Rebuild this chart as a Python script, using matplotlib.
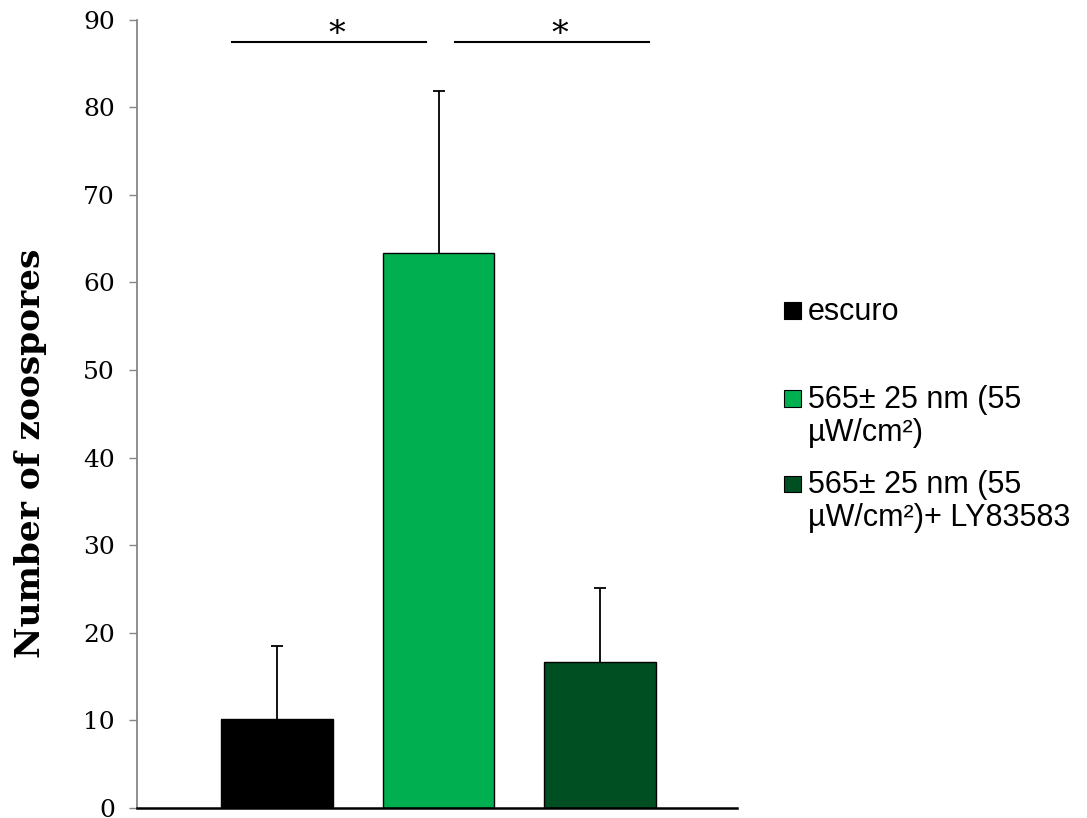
import numpy as np
import matplotlib
matplotlib.use("Agg")
import matplotlib.pyplot as plt
from matplotlib.patches import Rectangle

# data
labels = ["escuro", "565\u00b1 25 nm (55\n\u00b5W/cm\u00b2)", "565\u00b1 25 nm (55\n\u00b5W/cm\u00b2)+ LY83583"]
means = np.array([10.2, 63.3, 16.7])
errs = np.array([8.25, 18.6, 8.45])
colors = ["#000000", "#00B050", "#004F23"]
yticks = [0, 10, 20, 30, 40, 50, 60, 70, 80, 90]

# significance bars: (x start, x end, y)
sig_lines = [(-0.28, 0.925, 87.4), (1.10, 2.30, 87.4)]
sig_marks = [(0.37, "*"), (1.75, "*")]

W, H = 1087, 818
fig = plt.figure(figsize=(W / 100, H / 100), dpi=100)
ax = fig.add_axes([137 / W, 1 - 808 / H, 600 / W, 788.4 / H])

x = np.arange(len(means))
ax.bar(x, means, width=0.69, color=colors, edgecolor="black", linewidth=1.0, zorder=2)
# only the upper half of the error bar, like excel's "plus" direction
ax.vlines(x, means, means + errs, color="black", lw=1.3, zorder=3)
ax.plot(x, means + errs, ls="none", marker="_", ms=8, mew=1.3, color="black", zorder=3)

for x0, x1, yy in sig_lines:
    ax.plot([x0, x1], [yy, yy], color="black", lw=1.5, clip_on=False)
for xs, s in sig_marks:
    ax.text(xs, 86.4, s, ha="center", va="bottom", fontsize=24, family="DejaVu Serif")

ax.set_xlim(-0.865, 2.846)
ax.set_ylim(0, 90)
ax.set_yticks(yticks)
ax.set_xticks([])
ax.set_yticklabels([str(t) for t in yticks], family="DejaVu Serif", fontsize=18)
ax.tick_params(axis="y", direction="out", length=6, width=1, color="#868686", pad=10)

for side in ["top", "right"]:
    ax.spines[side].set_visible(False)
ax.spines["left"].set_color("#868686")
ax.spines["left"].set_linewidth(1.3)
ax.spines["bottom"].set_color("black")
ax.spines["bottom"].set_linewidth(1.8)

ax.set_ylabel("Number of zoospores", family="DejaVu Serif", fontweight="bold", fontsize=24.8, va="center")
ax.yaxis.set_label_coords(-0.177, 0.45)

# legend drawn by hand so the swatch sits beside the first line
first_base = [320, 408, 493]
line_gap = 32.7
for lab, c, yb in zip(labels, colors, first_base):
    fig.add_artist(Rectangle((784 / W, 1 - (yb - 1) / H), 16.5 / W, 16.5 / H,
                             transform=fig.transFigure, facecolor=c, edgecolor="black", lw=0.8))
    for i, part in enumerate(lab.split("\n")):
        fig.text(808 / W, 1 - (yb + i * line_gap) / H, part, ha="left", va="baseline",
                 fontsize=22, family="Liberation Sans")

fig.savefig("out.png", dpi=100)
